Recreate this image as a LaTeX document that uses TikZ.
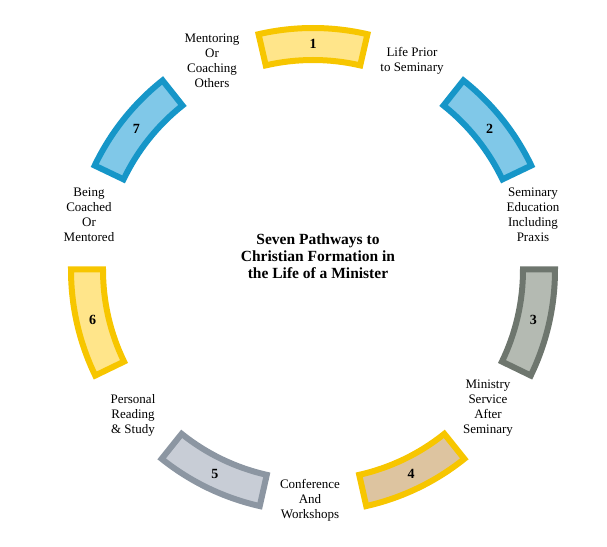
\documentclass[tikz,border=0pt]{standalone}
\usepackage{fontspec}
\setmainfont{Liberation Serif}
\usepackage{xcolor}
\usepackage{tikz}
\usetikzlibrary{
  calc
}
\definecolor{ringgold}{RGB}{247,198,0}
\definecolor{paleyellow}{RGB}{255,229,138}
\definecolor{ringblue}{RGB}{22,150,200}
\definecolor{skyfill}{RGB}{128,200,232}
\definecolor{moss}{RGB}{110,118,110}
\definecolor{mossfill}{RGB}{180,186,178}
\definecolor{tanfill}{RGB}{221,196,160}
\definecolor{slate}{RGB}{140,150,162}
\definecolor{slatefill}{RGB}{200,205,214}
\tikzset{
  pathseg/.style 2 args={
    draw=#1,
    fill=#2,
    line width=6pt,
    line join=miter
  },
  segnum/.style={
    font=\fontsize{14}{16}\selectfont\bfseries,
    inner sep=0pt
  },
  pathlabel/.style={
    align=center,
    inner sep=1pt,
    font=\fontsize{13}{15}\selectfont
  },
  heading/.style={
    align=center,
    font=\fontsize{15.5}{17}\selectfont\bfseries
  }
}

\begin{document}
\begin{tikzpicture}[x=1pt,y=1pt]
\useasboundingbox (-313,-276) rectangle (294,270);

% the seven arcs of the ring
\foreach \i/\bd/\fl in {1/ringgold/paleyellow,2/ringblue/skyfill,3/moss/mossfill,
  4/ringgold/tanfill,5/slate/slatefill,6/ringgold/paleyellow,7/ringblue/skyfill}{
  \pgfmathsetmacro{\a}{90-(\i-1)*360/7}
  \draw[pathseg={\bd}{\fl}]
    (\a-13:210) arc[start angle=\a-13, end angle=\a+13, radius=210]
    -- (\a+13:242) arc[start angle=\a+13, end angle=\a-13, radius=242]
    -- cycle;
  \node[segnum] (n\i) at (\a:226) {\i};
}

\node[heading] (title) at (5,14) {Seven Pathways to\\Christian Formation in\\the Life of a Minister};

% labels round the ring
\node[pathlabel] (prior) at (99,209) {Life Prior\\to Seminary};
\node[pathlabel] (seminary) at (220,55) {Seminary\\Education\\Including\\Praxis};
\node[pathlabel] (ministry) at (175,-138) {Ministry\\Service\\After\\Seminary};
\node[pathlabel] (conference) at (-3,-230) {Conference\\And\\Workshops};
\node[pathlabel] (reading) at (-180,-145) {Personal\\Reading\\\& Study};
\node[pathlabel] (coached) at (-224,55) {Being\\Coached\\Or\\Mentored};
\node[pathlabel] (mentoring) at (-101,209) {Mentoring\\Or\\Coaching\\Others};
\end{tikzpicture}
\end{document}
